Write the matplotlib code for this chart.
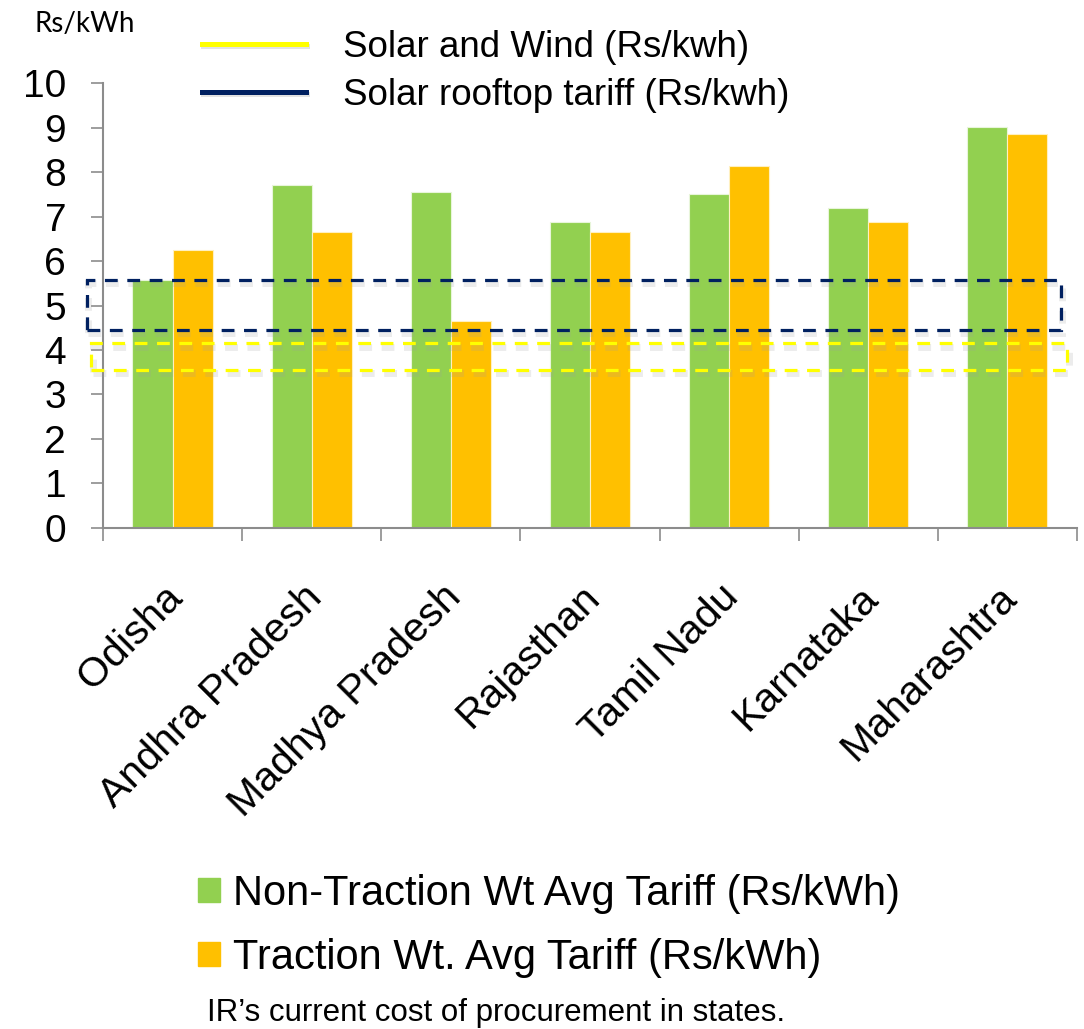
import numpy as np
import matplotlib.pyplot as plt
import matplotlib.patheffects as pe
from matplotlib.patches import Rectangle, Patch
from matplotlib.lines import Line2D

plt.rcParams['font.family'] = 'Liberation Sans'

# state-wise tariffs (Rs/kWh)
states = ['Odisha', 'Andhra Pradesh', 'Madhya Pradesh', 'Rajasthan',
          'Tamil Nadu', 'Karnataka', 'Maharashtra']
non_traction = [5.57, 7.71, 7.55, 6.87, 7.5, 7.19, 9.01]
traction = [6.25, 6.65, 4.65, 6.65, 8.13, 6.88, 8.85]

# renewable tariff bands (low, high)
solar_wind_band = (3.55, 4.15)
rooftop_band = (4.45, 5.58)

green = '#92D050'
orange = '#FFC000'
navy = '#002060'
yellow = '#FFFF00'
grey = '#8C8C8C'

fig = plt.figure(figsize=(10.84, 10.29), dpi=100)
ax = fig.add_axes([0.095, 0.4869, 0.8985, 0.4324])

x = np.arange(len(states))
w = 0.288
ax.bar(x - w / 2, non_traction, w, color=green, edgecolor='#E8F5DA', linewidth=0.8)
ax.bar(x + w / 2, traction, w, color=orange, edgecolor='#FFF0C0', linewidth=0.8)

ax.set_xlim(-0.5, 6.5)
ax.set_ylim(0, 10)
ax.set_yticks(range(0, 11))
ax.tick_params(axis='y', labelsize=28, length=8.5, width=1.2, color=grey, pad=18)

# category separators as ticks
ax.set_xticks(np.arange(-0.5, 7, 1))
ax.set_xticklabels([])
ax.tick_params(axis='x', length=9, width=1.2, color=grey)
for i, s in enumerate(states):
    ax.annotate(s, xy=(i, 0), xycoords=('data', 'axes fraction'),
                xytext=(-7, -36), textcoords='offset points',
                rotation=45, rotation_mode='anchor', ha='right', va='top',
                fontsize=29.5)

for side in ['top', 'right']:
    ax.spines[side].set_visible(False)
for side in ['left', 'bottom']:
    ax.spines[side].set_color(grey)
    ax.spines[side].set_linewidth(1.5)

# dashed tariff bands with a soft shadow
shadow = [pe.SimpleLineShadow(offset=(1, -2.5), shadow_color='#A0A0A0', alpha=0.2, linewidth=5),
          pe.Normal()]
bands = [(rooftop_band, navy, -0.615, 7.0), (solar_wind_band, yellow, -0.585, 7.015)]
for (lo, hi), col, x0, wd in bands:
    r = Rectangle((x0, lo), wd, hi - lo, fill=False, edgecolor=col,
                  linewidth=2.3, linestyle=(0, (4, 3)), clip_on=False, zorder=4)
    r.set_path_effects(shadow)
    ax.add_patch(r)

# band legend at the top
line_shadow = [pe.SimpleLineShadow(offset=(1, -1.5), shadow_color='#A0A0A0', alpha=0.3), pe.Normal()]
top_handles = [Line2D([], [], color=yellow, linewidth=3.6, path_effects=line_shadow),
               Line2D([], [], color=navy, linewidth=3.6, path_effects=line_shadow)]
fig.legend(top_handles, ['Solar and Wind (Rs/kwh)', 'Solar rooftop tariff (Rs/kwh)'],
           loc='upper left', bbox_to_anchor=(0.186, 0.971), frameon=False,
           fontsize=26.5, handlelength=2.83, handletextpad=1.0, labelspacing=0.36,
           borderpad=0, borderaxespad=0)

# series legend at the bottom
bot_handles = [Patch(color=green), Patch(color=orange)]
fig.legend(bot_handles, ['Non-Traction Wt Avg Tariff (Rs/kWh)', 'Traction Wt. Avg Tariff (Rs/kWh)'],
           loc='upper left', bbox_to_anchor=(0.1827, 0.151), frameon=False,
           fontsize=30, handlelength=0.53, handleheight=0.53, handletextpad=0.3,
           labelspacing=0.58, borderpad=0, borderaxespad=0)

fig.text(0.032, 0.969, 'Rs/kWh', fontsize=20, family='Lato', va='baseline')
fig.text(0.191, 0.0075, 'IR\u2019s current cost of procurement in states.', fontsize=22.5, va='baseline')

fig.savefig('out.png', dpi=100)
